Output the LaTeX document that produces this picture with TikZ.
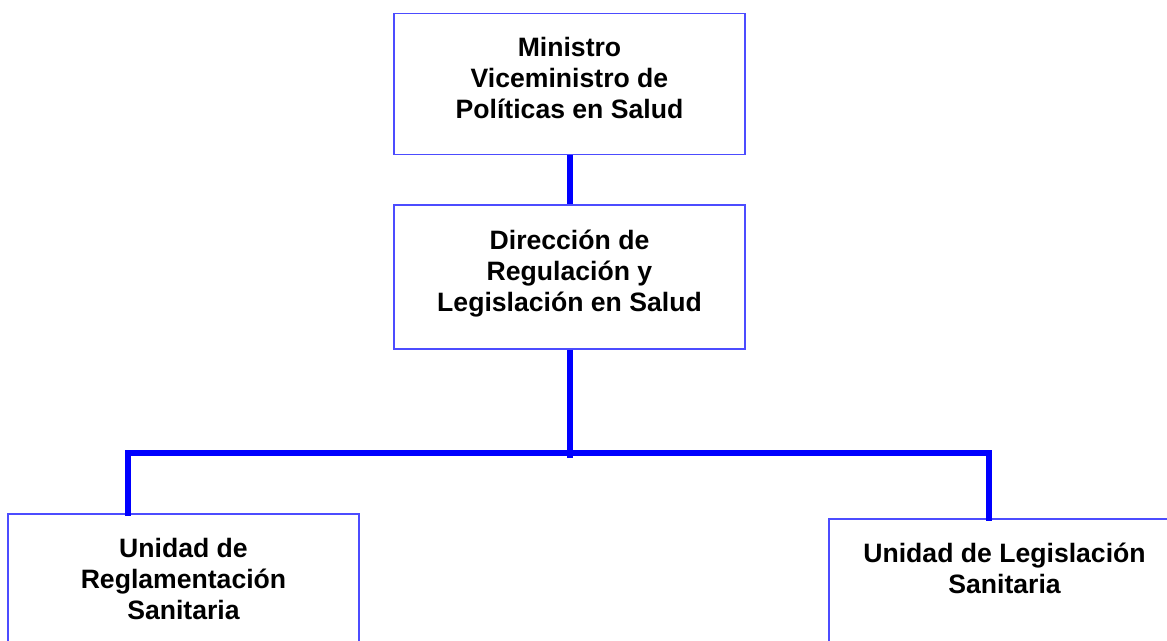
\documentclass[tikz,border=0pt]{standalone}
\usepackage{fontspec}
\setmainfont{Liberation Sans}
\usetikzlibrary{positioning}

\begin{document}
\begin{tikzpicture}[%
	x=0.5pt,y=-0.5pt,node distance=2cm,on grid,
	unit/.style={draw=blue!70,line width=0.6pt,minimum width=175.5pt,
		minimum height=71pt,align=center,inner sep=0pt,text depth=6pt,
		font=\fontsize{13.3}{15.5}\selectfont\bfseries},
	link/.style={draw=blue,line width=3pt}]

	\clip (0,0) rectangle (1167,641);

	\node[unit,minimum height=70.5pt]	(MIN)	at (569.5,84)	{%
		Ministro\\
		Viceministro de\\
		Políticas en Salud
	};
	\node[unit,minimum height=72pt]	(DIR)	[below=96.5pt of MIN]	{%
		Dirección de\\
		Regulación y\\
		Legislación en Salud
	};
	\node[unit]	(URS)	[below left=154pt and 193pt of DIR]	{%
		Unidad de\\
		Reglamentación\\
		Sanitaria
	};
	\node[unit,text depth=22pt]	(ULS)	[below right=156.5pt and 217.5pt of DIR]	{%
		Unidad de Legislación\\
		Sanitaria
	};

	\coordinate (JL) at (128,453);
	\coordinate (JR) at (989,453);
	\coordinate (JD) at (569.5,458);

	\draw[link] (MIN.south) -- (DIR.north);
	\draw[link] (DIR.south) -- (DIR.south |- JD);
	\draw[link,line cap=rect] (URS.north -| JL) -- (JL) -- (JR) -- (ULS.north -| JR);

\end{tikzpicture}
\end{document}
